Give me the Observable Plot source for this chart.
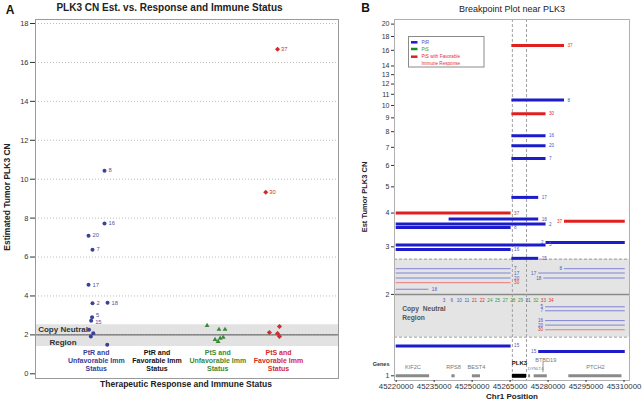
<!DOCTYPE html>
<html><head><meta charset="utf-8">
<script src="https://cdn.jsdelivr.net/npm/d3@7"></script>
<script src="https://cdn.jsdelivr.net/npm/@observablehq/plot@0.6"></script>
<style>
html,body{margin:0;padding:0;background:#fff;}
#wrap{position:relative;width:642px;height:403px;overflow:hidden;font-family:"Liberation Sans",Arial,sans-serif;}
#wrap svg{position:absolute;top:0;}
.t{position:absolute;white-space:nowrap;line-height:1;transform:translate(-50%,-50%);}
.r{transform:translate(-50%,-50%) rotate(-90deg);}
</style></head>
<body><div id="wrap"></div>
<script>
// ---------- Panel A data ----------
const catsA = ["PtR and\nUnfavorable Imm\nStatus","PtR and\nFavorable Imm\nStatus","PtS and\nUnfavorable Imm\nStatus","PtS and\nFavorable Imm\nStatus"];
const yTicksA = [0,2,4,6,8,10,12,14,16,18];
const bandA = [1.4, 2.52];
const ptrUnfavCN  = [10.44, 7.72, 7.10, 6.38, 4.58, 3.62, 3.65, 2.90, 2.73, 2.26, 2.09, 1.92, 1.49];
const ptrUnfavId  = ["8","16","20","7","17","2","18","5","15","","","",""];
const ptrUnfavJit = [0.135, 0.135, -0.128, -0.063, -0.128, -0.063, 0.185, -0.07, -0.085, -0.12, -0.05, -0.09, 0.18];
const ptsUnfavCN  = [2.48, 2.28, 2.28, 1.76, 1.66, 1.82, 1.87];
const ptsUnfavJit = [-0.176, 0.02, 0.12, -0.045, 0.005, 0.04, 0.09];
const ptsFavCN    = [16.68, 9.33, 2.12, 2.43, 2.07, 1.92];
const ptsFavId    = ["37","30","","","",""];
const ptsFavJit   = [-0.016, -0.21, -0.15, 0.016, -0.016, 0.016];

// ---------- Panel B data ----------
const xTicksB = [45220000,45235000,45250000,45265000,45280000,45295000,45310000];
const yTicksB = [1,2,3,4,5,6,7,8,9,10,11,12,13,14,16,18,20];
const bandB = [1.39, 2.70];
const plk3Bounds = [45265897, 45271491];
const segSample = ["37","8","30","16","20","7","17","37","18","2","37","8","5","2","16","15","15","15",
                   "7","17","20","30","18","8","17","18","5","7","16","20","30"];
const segGroup  = ["F","R","F","R","R","R","R","F","R","R","F","R","R","R","R","R","R","R",
                   "R","R","R","F","R","R","R","R","R","R","R","R","F"];
const segStart  = [45265700,45265700,45265700,45265700,45265700,45265700,45265700,45220000,45240900,45220000,45286500,45220000,45220000,45279200,45220000,45265700,45220000,45276300,
                   45220000,45220000,45220000,45220000,45220000,45286500,45276300,45278300,45279000,45279000,45279000,45279000,45279000];
const segEnd    = [45286500,45286500,45279200,45279200,45279200,45279200,45276300,45265400,45276300,45279200,45310500,45265400,45279200,45310500,45265400,45276300,45265400,45310500,
                   45265400,45265400,45265400,45265400,45232900,45310500,45310500,45310500,45310500,45310500,45310500,45310500,45310500];
const segCN     = [16.66,10.47,9.32,7.72,7.09,6.37,4.57,4.0,3.80,3.64,3.73,3.54,3.05,3.11,2.93,2.72,1.29,1.23,
                   2.49,2.40,2.30,2.21,2.09,2.49,2.40,2.30,1.80,1.74,1.60,1.54,1.48];
const neutralIds    = ["3","6","10","11","21","22","24","25","27","28","29","31","32","33","34"];
const neutralGroups = ["R","R","R","R","F","F","S","S","S","S","S","R","S","F","F"];
const neutralCN = 1.90;
const geneName  = ["KIF2C","RPS8","BEST4","PLK3","DYNLT4","BTBD19","PTCH2"];
const geneStart = [45220000,45242000,45250100,45265897,45272300,45274500,45288200];
const geneEnd   = [45233200,45243300,45253300,45271491,45273100,45279700,45309200];
const legendLabels = ["PtR","PtS","PtS with  Favorable\nImmune Response"];
const legendGroups = ["R","S","F"];

// ---------- styles ----------
const FONT = "Liberation Sans, Arial, sans-serif";
const colA = {blue:"#3b4199", green:"#3a8a3a", red:"#d42a2a", black:"#111"};
const thickCol = {R:"#1c1ccc", S:"#1f8a1f", F:"#e02020"};
const thinCol  = {R:"#7f83d6", S:"#6fb56f", F:"#ea7a7a"};
const labCol   = {R:"#4a55c8", S:"#3a9a3a", F:"#e03030"};
const labelNudgeA = {"5": -1.8, "15": 1.8};
const geneStyle = {KIF2C:{dy:-9}, RPS8:{dy:-9}, BEST4:{dy:-9}, PLK3:{dy:-13}, DYNLT4:{dy:-7.5, dx:6}, BTBD19:{dy:-16, dx:5}, PTCH2:{dy:-9}};

const wrap = document.getElementById("wrap");

// ---------- Panel A ----------
const ptsA = ptrUnfavCN.map((v,i)=>({x:1+ptrUnfavJit[i], y:v, id:ptrUnfavId[i]}));
const ptsG = ptsUnfavCN.map((v,i)=>({x:3+ptsUnfavJit[i], y:v}));
const ptsRd = ptsFavCN.map((v,i)=>({x:4+ptsFavJit[i], y:v, id:ptsFavId[i]}));
const catColors = [colA.blue, colA.black, colA.green, colA.red];
const labelMarksA = ptsA.filter(d => d.id).map(d => Plot.text([d], {x: "x", y: "y", text: "id", dx: 4, dy: labelNudgeA[d.id] || 0, textAnchor: "start", fontSize: 5.8, fill: "#4a55a8"}));

const plotA = Plot.plot({
  width: 340, height: 403,
  marginLeft: 35, marginRight: 2, marginTop: 19, marginBottom: 25,
  style: {fontFamily: FONT, fontSize: "7.5px", color: "#333", background: "transparent", overflow: "visible"},
  x: {domain: [1,4], range: [95.8, 278], axis: null},
  y: {domain: [0,18], range: [373.3, 23], ticks: yTicksA, tickSize: 5, tickPadding: 2, label: null},
  color: {type: "identity"},
  marks: [
    Plot.rect([{lo: bandA[0], hi: bandA[1]}], {y1: "lo", y2: "hi", fill: "#e2e2e2"}),
    Plot.ruleY(yTicksA.filter(d => d > 0), {stroke: "#bdbdbd", strokeDasharray: "1,2"}),
    Plot.ruleY([2], {stroke: "#555"}),
    Plot.frame({stroke: "#9a9a9a"}),
    Plot.text([{t: "Copy Neutral", v: 2}], {text: "t", y: "v", frameAnchor: "left", textAnchor: "start", dx: 2.7, dy: -5, fontWeight: "bold", fontSize: 8, fill: "#333"}),
    Plot.text([{t: "Region", v: 2}], {text: "t", y: "v", frameAnchor: "left", textAnchor: "start", dx: 14, dy: 7.7, fontWeight: "bold", fontSize: 8, fill: "#333"}),
    Plot.dot(ptsA, {x: "x", y: "y", r: 2, fill: colA.blue, stroke: null}),
    ...labelMarksA,
    Plot.dot(ptsG, {x: "x", y: "y", r: 1.8, symbol: "triangle", fill: colA.green, stroke: null}),
    Plot.dot(ptsRd, {x: "x", y: "y", r: 2.3, symbol: "diamond2", fill: colA.red, stroke: null}),
    Plot.text(ptsRd, {x: "x", y: "y", text: "id", dx: 3.5, textAnchor: "start", fontSize: 5.8, fill: colA.red}),
    Plot.text(catsA, {x: (d,i) => i+1, y: () => 0.684, text: d => d, fill: (d,i) => catColors[i], fontSize: 7, fontWeight: "bold", lineHeight: 1.15})
  ]
});
plotA.style.left = "0px";
wrap.appendChild(plotA);

// ---------- Panel B ----------
const segs = segSample.map((s,i) => ({id: s, g: segGroup[i], x1: segStart[i], x2: segEnd[i], cn: segCN[i]}));
const isThick = d => d.cn >= bandB[1] || d.cn < bandB[0];
const thick = segs.filter(isThick), thin = segs.filter(d => !isThick(d));
const labRight = segs.filter(d => d.x1 <= 45270000), labLeft = segs.filter(d => d.x1 > 45270000);
const rowStart = 45238900, rowStep = 3020;
const neutralRow = neutralIds.map((id,i) => ({id, g: neutralGroups[i], x: rowStart + i*rowStep}));
const genes = geneName.map((n,i) => ({n, a: geneStart[i], b: geneEnd[i], m: (geneStart[i]+geneEnd[i])/2}));
const genesPlain = genes.filter(d => d.n !== "PLK3"), genePLK = genes.filter(d => d.n === "PLK3");

const geneLabelMarks = genes.map(d => Plot.text([d], {
  x: "m", y: () => 1, text: "n", dy: geneStyle[d.n].dy, dx: geneStyle[d.n].dx || 0,
  fontSize: d.n === "PLK3" ? 6 : (d.n === "DYNLT4" ? 4.2 : 5.6),
  fontWeight: d.n === "PLK3" ? "bold" : "normal",
  fill: d.n === "PLK3" ? "#111" : "#777"
}));

const plotB = Plot.plot({
  width: 302, height: 403,
  marginLeft: 54, marginRight: 13, marginTop: 19, marginBottom: 23,
  style: {fontFamily: FONT, fontSize: "7px", color: "#333", background: "transparent", overflow: "visible"},
  x: {domain: [45220000, 45310000], range: [55.7, 283.5]},
  y: {type: "log", domain: [1, 20], range: [375.3, 23.6]},
  color: {type: "identity"},
  marks: [
    Plot.rect([{lo: bandB[0], hi: bandB[1]}], {y1: "lo", y2: "hi", fill: "#e4e4e4"}),
    Plot.ruleY(bandB, {stroke: "#9a9a9a", strokeDasharray: "3,2"}),
    Plot.ruleY([2], {stroke: "#8a8a8a", strokeWidth: 1.5}),
    Plot.ruleX(plk3Bounds, {stroke: "#a0a0a0", strokeDasharray: "3,2"}),
    Plot.frame({stroke: "#b0b0b0"}),
    Plot.axisY({ticks: yTicksB, tickFormat: d => String(d), tickSize: 3, tickPadding: 2, fontSize: 7, label: null}),
    Plot.axisX({ticks: xTicksB, tickFormat: d => String(d), tickSize: 2, tickPadding: 1, fontSize: 7.8, label: null}),
    Plot.ruleY(thin, {y: "cn", x1: "x1", x2: "x2", stroke: d => thinCol[d.g], strokeWidth: 1}),
    Plot.ruleY(thick, {y: "cn", x1: "x1", x2: "x2", stroke: d => thickCol[d.g], strokeWidth: 3}),
    Plot.text(labRight, {x: "x2", y: "cn", text: "id", dx: 3, textAnchor: "start", fontSize: 4.6, fill: d => labCol[d.g]}),
    Plot.text(labLeft, {x: "x1", y: "cn", text: "id", dx: -2.5, textAnchor: "end", fontSize: 4.6, fill: d => labCol[d.g]}),
    Plot.text(neutralRow, {x: "x", y: () => neutralCN, text: "id", fontSize: 4.6, fill: d => labCol[d.g]}),
    Plot.text([{t: "Copy  Neutral\nRegion", v: 1.71}], {text: "t", y: "v", frameAnchor: "left", textAnchor: "start", dx: 7.7, fontWeight: "bold", fontSize: 6.7, lineHeight: 1.3, fill: "#555"}),
    Plot.ruleY(genesPlain, {y: () => 1, x1: "a", x2: "b", stroke: "#8a8a8a", strokeWidth: 3}),
    Plot.ruleY(genePLK, {y: () => 1, x1: "a", x2: "b", stroke: "#000", strokeWidth: 4}),
    Plot.ruleX([{x: 45278000}], {x: "x", y1: () => 1.028, y2: () => 1.12, stroke: "#777", strokeWidth: 0.8}),
    ...geneLabelMarks,
    Plot.text([{t: "Genes"}], {text: "t", x: () => 45220000, y: () => 1, dx: -6.7, dy: -11.3, textAnchor: "end", fontSize: 5.5, fontWeight: "bold", fill: "#333"})
  ]
});
plotB.style.left = "340px";
wrap.appendChild(plotB);

// ---------- Legend (panel B) ----------
const leg = d3.select(wrap).append("svg")
  .attr("width", 77).attr("height", 32)
  .style("left", "408px").style("top", "36px")
  .style("font-family", FONT);
leg.append("rect").attr("x", 0.5).attr("y", 0.5).attr("width", 75.5).attr("height", 30.5)
  .attr("fill", "#fff").attr("stroke", "#8a8a8a");
const legY = [6.3, 13, 20.7];
legendLabels.forEach((lab, i) => {
  leg.append("line").attr("x1", 3).attr("x2", 9.5).attr("y1", legY[i]).attr("y2", legY[i])
    .attr("stroke", thickCol[legendGroups[i]]).attr("stroke-width", 2.5);
  const t = leg.append("text").attr("x", 13.5).attr("y", legY[i])
    .attr("font-size", 4.6).attr("fill", labCol[legendGroups[i]]);
  lab.split("\n").forEach((line, j) => {
    t.append("tspan").attr("x", 13.5).attr("dy", j === 0 ? "0.35em" : "1.4em").text(line);
  });
});

// ---------- HTML titles and axis labels ----------
function addText(txt, cx, cy, css, cls) {
  const d = document.createElement("div");
  d.className = "t" + (cls ? " " + cls : "");
  d.textContent = txt;
  d.style.left = cx + "px"; d.style.top = cy + "px";
  Object.assign(d.style, css);
  wrap.appendChild(d);
}
addText("A", 10, 10, {fontSize: "12px", fontWeight: "bold", color: "#111"});
addText("PLK3 CN Est. vs. Response and Immune Status", 169.5, 7.5, {fontSize: "10px", fontWeight: "bold", color: "#222"});
addText("Estimated Tumor PLK3 CN", 7, 196.5, {fontSize: "8.5px", fontWeight: "bold", color: "#222"}, "r");
addText("Therapeutic Response and Immune Status", 186, 384, {fontSize: "8.5px", fontWeight: "bold", color: "#222"});
addText("B", 365.5, 8, {fontSize: "12px", fontWeight: "bold", color: "#111"});
addText("Breakpoint Plot near PLK3", 512, 9, {fontSize: "9px", color: "#222"});
addText("Est Tumor PLK3 CN", 365, 197, {fontSize: "7.5px", fontWeight: "bold", color: "#222"}, "r");
addText("Chr1 Position", 512, 397, {fontSize: "8px", fontWeight: "bold", color: "#222"});
</script>
</body></html>
